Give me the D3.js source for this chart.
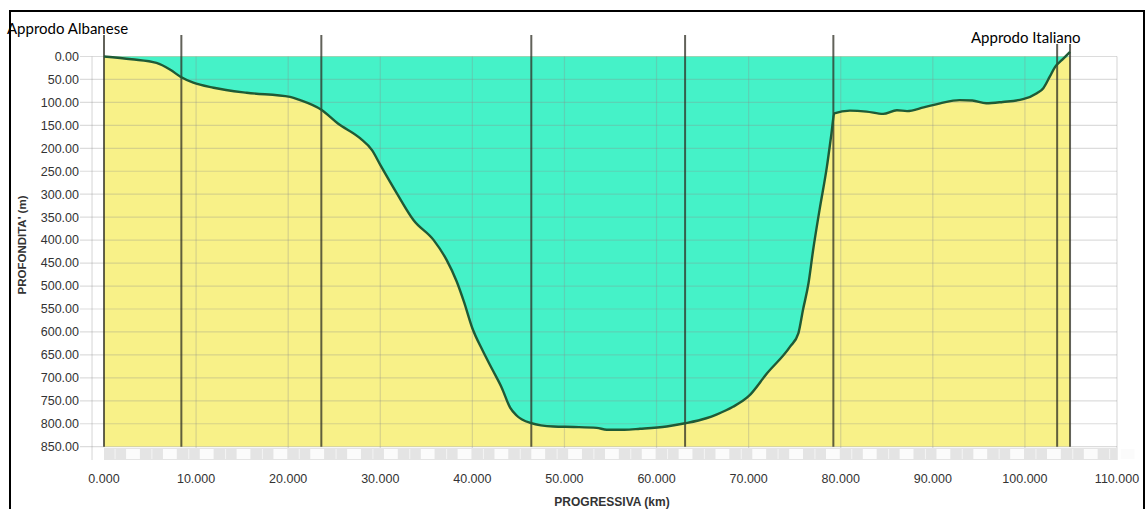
<!DOCTYPE html>
<html><head><meta charset="utf-8">
<script src="https://cdn.jsdelivr.net/npm/d3@7"></script>
<style>html,body{margin:0;padding:0;background:#fff;}svg{display:block;}</style>
</head><body>
<svg id="c" width="1146" height="509"></svg>
<script>
// Profile data (progressiva km, depth m)
const profileKm = [0, 3.0, 5.7, 7.2, 8.3, 9.7, 11.9, 15.5, 20.2, 21.3, 23.6, 25.4, 27.8, 29.1, 30.0, 31.8, 33.6, 35.8, 37.2, 38.3, 39.1, 40.0, 41.1, 42.2, 43.2, 44.1, 44.8, 46.3, 48.8, 51.0, 53.5, 54.6, 56.5, 58.2, 61.1, 63.1, 65.4, 66.5, 68.3, 70.0, 72.0, 74.5, 75.4, 75.9, 76.5, 77.0, 77.7, 78.5, 79.0, 79.3, 81.0, 82.8, 84.6, 86.1, 87.2, 89.0, 90.8, 92.9, 94.3, 95.8, 97.6, 99.8, 101.3, 102.0, 102.7, 103.3, 104.0, 104.9];
const profileDepth = [0, 6, 14, 29, 44, 57, 68, 79, 88, 95, 116, 146, 178, 204, 236, 298, 356, 400, 443, 490, 535, 592, 640, 683, 722, 765, 782, 798, 806, 807, 809, 813, 813, 811, 806, 799, 788, 780, 763, 740, 690, 632, 603, 552, 494, 422, 334, 240, 167, 124, 118, 120, 125, 117, 119, 111, 102, 95, 96, 102, 99, 93, 80, 69, 44, 22, 8, -10];
const markerKm = [0, 8.4, 23.6, 46.4, 63.1, 79.2, 103.5, 104.9];
const xTicks = [0, 10, 20, 30, 40, 50, 60, 70, 80, 90, 100, 110];
const yTicks = d3.range(0, 851, 50);
const endKm = 104.9;
const labelLeft = "Approdo Albanese";
const labelRight = "Approdo Italiano";
const xTitle = "PROGRESSIVA (km)";
const yTitle = "PROFONDITA' (m)";

const svg = d3.select("#c");
const x = d3.scaleLinear().domain([0, 110]).range([104, 1117]);
const y = d3.scaleLinear().domain([0, 850]).range([56.5, 446.7]);

// frame
svg.append("rect").attr("x", 10).attr("y", 11).attr("width", 1134).attr("height", 520)
  .attr("fill", "none").attr("stroke", "#000").attr("stroke-width", 2);

// plot background
svg.append("rect").attr("x", x(-1.3)).attr("y", y(0)).attr("width", x(110) - x(-1.3)).attr("height", y(850) - y(0))
  .attr("fill", "#fff");

// yellow seabed fill
svg.append("rect").attr("x", x(0)).attr("y", y(0)).attr("width", x(endKm) - x(0)).attr("height", y(850) - y(0))
  .attr("fill", "#f8f188");

const pts = profileKm.map((k, i) => [k, profileDepth[i]]);
// water (cyan) area
svg.append("path").datum(pts)
  .attr("d", d3.area().x(d => x(d[0])).y0(y(0)).y1(d => y(Math.max(0, d[1]))).curve(d3.curveMonotoneX))
  .attr("fill", "#45f2c8");

// grid lines
const g = svg.append("g");
g.selectAll("line.h").data(yTicks).join("line")
  .attr("x1", 80).attr("x2", x(110)).attr("y1", d => y(d)).attr("y2", d => y(d))
  .attr("stroke", "rgba(140,140,140,0.3)").attr("stroke-width", 1.2);
g.selectAll("line.v").data(xTicks.filter(d => d > 0)).join("line")
  .attr("x1", d => x(d)).attr("x2", d => x(d)).attr("y1", y(0)).attr("y2", 460)
  .attr("stroke", "rgba(140,140,140,0.3)").attr("stroke-width", 1.2);
g.append("line").attr("x1", x(-1.3)).attr("x2", x(-1.3)).attr("y1", y(0)).attr("y2", 460)
  .attr("stroke", "rgba(140,140,140,0.3)").attr("stroke-width", 1.2);

// bottom decorative strip
const strip = svg.append("g");
const cells = d3.range(0, 110, 4);
strip.append("rect").attr("x", x(0)).attr("y", 448).attr("width", x(110) - x(0)).attr("height", 12)
  .attr("fill", "#e4e4e4");
strip.selectAll("rect.w").data(cells).join("rect")
  .attr("x", d => x(d + 2.4)).attr("y", 449).attr("width", x(1.5) - x(0)).attr("height", 10)
  .attr("fill", "#fbfbfb");
strip.selectAll("line.d").data(cells).join("line")
  .attr("x1", d => x(d + 1.2)).attr("x2", d => x(d + 1.2)).attr("y1", 449).attr("y2", 459)
  .attr("stroke", "#f4f4f4").attr("stroke-width", 1);

// marker verticals
svg.selectAll("line.m").data(markerKm).join("line")
  .attr("x1", d => x(d)).attr("x2", d => x(d))
  .attr("y1", d => d > 100 ? 44 : 35).attr("y2", y(850))
  .attr("stroke", "rgba(45,45,35,0.75)").attr("stroke-width", 2);

// profile line
svg.append("path").datum(pts)
  .attr("d", d3.line().x(d => x(d[0])).y(d => y(d[1])).curve(d3.curveMonotoneX))
  .attr("fill", "none").attr("stroke", "#1f5a36").attr("stroke-width", 2.4);

// y tick labels
svg.selectAll("text.yt").data(yTicks).join("text")
  .attr("x", 79).attr("y", d => y(d)).attr("dy", "0.35em").attr("text-anchor", "end")
  .attr("font-family", "Liberation Sans, Arial, sans-serif").attr("font-size", 12.5)
  .attr("fill", "#333").text(d => d3.format(".2f")(d));

// x tick labels
svg.selectAll("text.xt").data(xTicks).join("text")
  .attr("x", d => x(d)).attr("y", 483).attr("text-anchor", "middle")
  .attr("font-family", "Liberation Sans, Arial, sans-serif").attr("font-size", 12.5)
  .attr("fill", "#333").text(d => d3.format(".3f")(d));

// axis titles
svg.append("text").attr("x", 612).attr("y", 506).attr("text-anchor", "middle")
  .attr("font-family", "Liberation Sans, Arial, sans-serif").attr("font-size", 12).attr("font-weight", "bold")
  .attr("fill", "#333").text(xTitle);
svg.append("text").attr("transform", "translate(26,245) rotate(-90)").attr("text-anchor", "middle")
  .attr("font-family", "Liberation Sans, Arial, sans-serif").attr("font-size", 11.5).attr("font-weight", "bold")
  .attr("fill", "#333").text(yTitle);

// end labels
svg.append("text").attr("x", 7).attr("y", 34)
  .attr("font-family", "Lato, 'Open Sans', sans-serif").attr("font-size", 15)
  .attr("fill", "#000").text(labelLeft);
svg.append("text").attr("x", 971).attr("y", 43)
  .attr("font-family", "Lato, 'Open Sans', sans-serif").attr("font-size", 15)
  .attr("fill", "#000").text(labelRight);
</script>
</body></html>
